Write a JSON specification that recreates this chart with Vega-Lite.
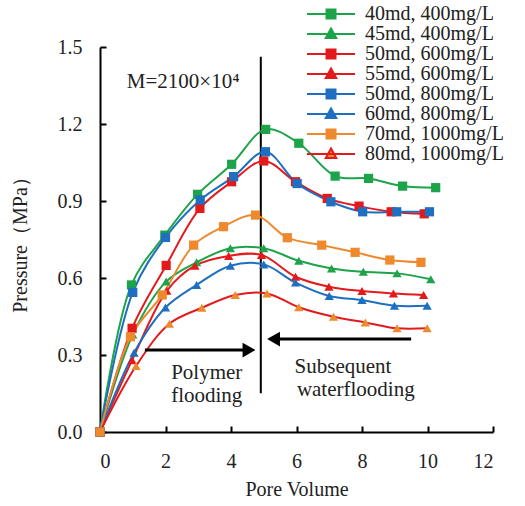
{
  "$schema": "https://vega.github.io/schema/vega-lite/v6.json",
  "width": 393,
  "height": 385,
  "autosize": "none",
  "padding": {"left": 100, "top": 47, "right": 32, "bottom": 74},
  "background": "white",
  "config": {
    "view": {"stroke": null},
    "font": "Liberation Serif",
    "axis": {"grid": false, "domainColor": "black", "domainWidth": 2, "tickColor": "black", "tickWidth": 2, "tickSize": -6, "labelFont": "Liberation Serif", "labelFontSize": 20, "labelColor": "#222", "titleFont": "Liberation Serif", "titleFontSize": 20, "titleFontWeight": "normal", "titleColor": "#222"},
    "legend": {"labelFont": "Liberation Serif", "labelFontSize": 20, "labelColor": "#222", "orient": "none", "legendX": 221, "legendY": -43, "padding": 0, "rowPadding": 0, "symbolSize": 100, "symbolStrokeWidth": 2, "labelOffset": 24}
  },
  "datasets": {
    "series": [
      {"s": "40md, 400mg/L", "pv": 0, "p": 0}, {"s": "40md, 400mg/L", "pv": 0.96, "p": 0.573}, {"s": "40md, 400mg/L", "pv": 1.98, "p": 0.767}, {"s": "40md, 400mg/L", "pv": 2.98, "p": 0.926}, {"s": "40md, 400mg/L", "pv": 4.02, "p": 1.043}, {"s": "40md, 400mg/L", "pv": 5.06, "p": 1.179}, {"s": "40md, 400mg/L", "pv": 6.07, "p": 1.125}, {"s": "40md, 400mg/L", "pv": 7.18, "p": 0.997}, {"s": "40md, 400mg/L", "pv": 8.2, "p": 0.988}, {"s": "40md, 400mg/L", "pv": 9.24, "p": 0.958}, {"s": "40md, 400mg/L", "pv": 10.25, "p": 0.952},
      {"s": "45md, 400mg/L", "pv": 0, "p": 0}, {"s": "45md, 400mg/L", "pv": 1.0, "p": 0.38}, {"s": "45md, 400mg/L", "pv": 2.02, "p": 0.586}, {"s": "45md, 400mg/L", "pv": 2.95, "p": 0.661}, {"s": "45md, 400mg/L", "pv": 3.98, "p": 0.716}, {"s": "45md, 400mg/L", "pv": 5.0, "p": 0.716}, {"s": "45md, 400mg/L", "pv": 6.07, "p": 0.667}, {"s": "45md, 400mg/L", "pv": 7.07, "p": 0.637}, {"s": "45md, 400mg/L", "pv": 8.04, "p": 0.624}, {"s": "45md, 400mg/L", "pv": 9.07, "p": 0.618}, {"s": "45md, 400mg/L", "pv": 10.1, "p": 0.595},
      {"s": "50md, 600mg/L", "pv": 0, "p": 0}, {"s": "50md, 600mg/L", "pv": 0.98, "p": 0.404}, {"s": "50md, 600mg/L", "pv": 2.02, "p": 0.649}, {"s": "50md, 600mg/L", "pv": 3.05, "p": 0.871}, {"s": "50md, 600mg/L", "pv": 4.02, "p": 0.975}, {"s": "50md, 600mg/L", "pv": 5.0, "p": 1.056}, {"s": "50md, 600mg/L", "pv": 5.97, "p": 0.975}, {"s": "50md, 600mg/L", "pv": 6.94, "p": 0.91}, {"s": "50md, 600mg/L", "pv": 7.91, "p": 0.88}, {"s": "50md, 600mg/L", "pv": 8.89, "p": 0.858}, {"s": "50md, 600mg/L", "pv": 9.9, "p": 0.85},
      {"s": "55md, 600mg/L", "pv": 0, "p": 0}, {"s": "55md, 600mg/L", "pv": 0.98, "p": 0.28}, {"s": "55md, 600mg/L", "pv": 2.04, "p": 0.55}, {"s": "55md, 600mg/L", "pv": 2.9, "p": 0.648}, {"s": "55md, 600mg/L", "pv": 3.93, "p": 0.686}, {"s": "55md, 600mg/L", "pv": 4.93, "p": 0.69}, {"s": "55md, 600mg/L", "pv": 5.97, "p": 0.605}, {"s": "55md, 600mg/L", "pv": 6.99, "p": 0.566}, {"s": "55md, 600mg/L", "pv": 8.0, "p": 0.549}, {"s": "55md, 600mg/L", "pv": 8.96, "p": 0.54}, {"s": "55md, 600mg/L", "pv": 9.88, "p": 0.534},
      {"s": "50md, 800mg/L", "pv": 0, "p": 0}, {"s": "50md, 800mg/L", "pv": 1.0, "p": 0.544}, {"s": "50md, 800mg/L", "pv": 2.0, "p": 0.758}, {"s": "50md, 800mg/L", "pv": 3.06, "p": 0.904}, {"s": "50md, 800mg/L", "pv": 4.08, "p": 0.995}, {"s": "50md, 800mg/L", "pv": 5.05, "p": 1.092}, {"s": "50md, 800mg/L", "pv": 6.02, "p": 0.968}, {"s": "50md, 800mg/L", "pv": 7.05, "p": 0.897}, {"s": "50md, 800mg/L", "pv": 8.02, "p": 0.858}, {"s": "50md, 800mg/L", "pv": 9.06, "p": 0.858}, {"s": "50md, 800mg/L", "pv": 10.06, "p": 0.858},
      {"s": "60md, 800mg/L", "pv": 0, "p": 0}, {"s": "60md, 800mg/L", "pv": 1.04, "p": 0.309}, {"s": "60md, 800mg/L", "pv": 2.0, "p": 0.485}, {"s": "60md, 800mg/L", "pv": 2.95, "p": 0.573}, {"s": "60md, 800mg/L", "pv": 3.98, "p": 0.648}, {"s": "60md, 800mg/L", "pv": 5.0, "p": 0.653}, {"s": "60md, 800mg/L", "pv": 5.97, "p": 0.582}, {"s": "60md, 800mg/L", "pv": 7.0, "p": 0.53}, {"s": "60md, 800mg/L", "pv": 8.0, "p": 0.514}, {"s": "60md, 800mg/L", "pv": 8.99, "p": 0.492}, {"s": "60md, 800mg/L", "pv": 9.99, "p": 0.492},
      {"s": "70md, 1000mg/L", "pv": 0, "p": 0}, {"s": "70md, 1000mg/L", "pv": 0.93, "p": 0.371}, {"s": "70md, 1000mg/L", "pv": 1.9, "p": 0.534}, {"s": "70md, 1000mg/L", "pv": 2.86, "p": 0.728}, {"s": "70md, 1000mg/L", "pv": 3.77, "p": 0.8}, {"s": "70md, 1000mg/L", "pv": 4.75, "p": 0.845}, {"s": "70md, 1000mg/L", "pv": 5.72, "p": 0.757}, {"s": "70md, 1000mg/L", "pv": 6.77, "p": 0.728}, {"s": "70md, 1000mg/L", "pv": 7.79, "p": 0.7}, {"s": "70md, 1000mg/L", "pv": 8.85, "p": 0.67}, {"s": "70md, 1000mg/L", "pv": 9.8, "p": 0.661},
      {"s": "80md, 1000mg/L", "pv": 0, "p": 0}, {"s": "80md, 1000mg/L", "pv": 1.1, "p": 0.257}, {"s": "80md, 1000mg/L", "pv": 2.12, "p": 0.422}, {"s": "80md, 1000mg/L", "pv": 3.11, "p": 0.484}, {"s": "80md, 1000mg/L", "pv": 4.13, "p": 0.534}, {"s": "80md, 1000mg/L", "pv": 5.1, "p": 0.54}, {"s": "80md, 1000mg/L", "pv": 6.07, "p": 0.486}, {"s": "80md, 1000mg/L", "pv": 7.13, "p": 0.449}, {"s": "80md, 1000mg/L", "pv": 8.1, "p": 0.427}, {"s": "80md, 1000mg/L", "pv": 9.07, "p": 0.404}, {"s": "80md, 1000mg/L", "pv": 9.99, "p": 0.404}
    ]
  },
  "encoding": {
    "x": {"type": "quantitative", "scale": {"domain": [0, 12], "nice": false}},
    "y": {"type": "quantitative", "scale": {"domain": [0, 1.5], "nice": false}}
  },
  "layer": [
    {
      "data": {"values": [{"x": 4.91, "y": 0.151, "y2": 1.462}]},
      "mark": {"type": "rule", "color": "black", "strokeWidth": 2},
      "encoding": {
        "x": {"field": "x", "type": "quantitative", "scale": {"domain": [0, 12], "nice": false}},
        "y": {"field": "y", "type": "quantitative", "scale": {"domain": [0, 1.5], "nice": false}},
        "y2": {"field": "y2"}
      }
    },
    {
      "data": {"name": "series"},
      "mark": {"type": "line", "interpolate": "catmull-rom", "strokeWidth": 2},
      "encoding": {
        "x": {"field": "pv", "type": "quantitative", "scale": {"domain": [0, 12], "nice": false}, "axis": {"values": [0, 2, 4, 6, 8, 10, 12], "title": "Pore Volume", "labelPadding": 25, "titlePadding": 8}},
        "y": {"field": "p", "type": "quantitative", "scale": {"domain": [0, 1.5], "nice": false}, "axis": {"values": [0, 0.3, 0.6, 0.9, 1.2, 1.5], "format": ".1f", "title": "Pressure（MPa）", "labelPadding": 24, "titlePadding": 27}},
        "stroke": {"field": "s", "type": "nominal", "title": null,
          "scale": {"domain": ["40md, 400mg/L", "45md, 400mg/L", "50md, 600mg/L", "55md, 600mg/L", "50md, 800mg/L", "60md, 800mg/L", "70md, 1000mg/L", "80md, 1000mg/L"],
                    "range": ["#1DA34A", "#1DA34A", "#E3191C", "#E3191C", "#1E6FC0", "#1E6FC0", "#EE8A2D", "#E3191C"]},
          "legend": {"symbolType": {"expr": "indexof(['40md, 400mg/L','50md, 600mg/L','50md, 800mg/L','70md, 1000mg/L'], datum.value) >= 0 ? 'M-4.8,0H4.8M-0.9,-0.9H0.9V0.9H-0.9Z' : 'M-4.8,0H4.8M0,-1.1L1.05,0.8H-1.05Z'"}}},
        "detail": {"field": "s"}
      }
    },
    {
      "data": {"name": "series"},
      "mark": {"type": "point", "filled": true, "size": 85, "opacity": 1,
        "shape": {"expr": "indexof(['40md, 400mg/L','50md, 600mg/L','50md, 800mg/L','70md, 1000mg/L'], datum.s) >= 0 ? 'square' : 'triangle-up'"}},
      "encoding": {
        "x": {"field": "pv", "type": "quantitative"},
        "y": {"field": "p", "type": "quantitative"},
        "fill": {"field": "s", "type": "nominal", "title": null,
          "scale": {"domain": ["40md, 400mg/L", "45md, 400mg/L", "50md, 600mg/L", "55md, 600mg/L", "50md, 800mg/L", "60md, 800mg/L", "70md, 1000mg/L", "80md, 1000mg/L"],
                    "range": ["#1DA34A", "#1DA34A", "#E3191C", "#E3191C", "#1E6FC0", "#1E6FC0", "#EE8A2D", "#EE8A2D"]},
          "legend": {"symbolType": {"expr": "indexof(['40md, 400mg/L','50md, 600mg/L','50md, 800mg/L','70md, 1000mg/L'], datum.value) >= 0 ? 'M-4.8,0H4.8M-0.9,-0.9H0.9V0.9H-0.9Z' : 'M-4.8,0H4.8M0,-1.1L1.05,0.8H-1.05Z'"}}}
      }
    },
    {
      "data": {"values": [{"x": 1.37, "x2": 4.55, "y": 0.319}, {"x": 5.3, "x2": 9.5, "y": 0.362}]},
      "mark": {"type": "rule", "color": "black", "strokeWidth": 3},
      "encoding": {
        "x": {"field": "x", "type": "quantitative"},
        "x2": {"field": "x2"},
        "y": {"field": "y", "type": "quantitative"}
      }
    },
    {
      "data": {"values": [{"x": 4.55, "y": 0.319, "dir": "triangle-right"}, {"x": 5.3, "y": 0.362, "dir": "triangle-left"}]},
      "mark": {"type": "point", "filled": true, "color": "black", "size": 220, "opacity": 1},
      "encoding": {
        "x": {"field": "x", "type": "quantitative"},
        "y": {"field": "y", "type": "quantitative"},
        "shape": {"field": "dir", "type": "nominal", "scale": null, "legend": null}
      }
    },
    {
      "data": {"values": [
        {"x": 2.54, "y": 1.363, "t": "M=2100×10⁴"},
        {"x": 3.26, "y": 0.23, "t": "Polymer"},
        {"x": 3.26, "y": 0.14, "t": "flooding"},
        {"x": 7.42, "y": 0.255, "t": "Subsequent"},
        {"x": 7.81, "y": 0.165, "t": "waterflooding"}
      ]},
      "mark": {"type": "text", "font": "Liberation Serif", "fontSize": 21, "color": "#222", "baseline": "middle", "align": "center"},
      "encoding": {
        "x": {"field": "x", "type": "quantitative"},
        "y": {"field": "y", "type": "quantitative"},
        "text": {"field": "t"}
      }
    }
  ]
}
